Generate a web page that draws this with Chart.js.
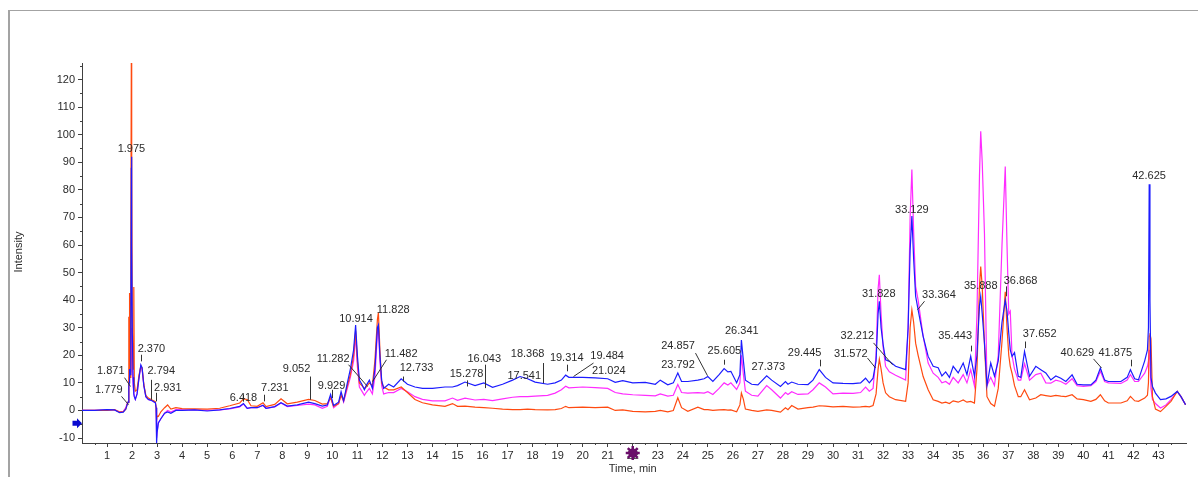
<!DOCTYPE html>
<html>
<head>
<meta charset="utf-8">
<script src="https://cdn.jsdelivr.net/npm/chart.js@4"></script>
<style>
  html, body { margin: 0; padding: 0; background: #fff; }
  #wrap { position: relative; width: 1198px; height: 477px; overflow: hidden; }
  #frame { position: absolute; left: 8px; top: 10px; width: 1400px; height: 600px;
           border-left: 2px solid #a3a3a3; border-top: 1px solid #a3a3a3; }
  canvas { position: absolute; left: 0; top: 0; }
</style>
</head>
<body>
<div id="wrap">
  <div id="frame"></div>
  <canvas id="chromChart" width="1198" height="477"></canvas>
</div>
<script>
// retention time, min
const times = [
  0, 0.5, 1.0, 1.3, 1.5, 1.65, 1.75, 1.8, 1.84, 1.87,
  1.88, 1.90, 1.92, 1.95, 1.97, 1.98, 1.99, 2.01, 2.04, 2.07,
  2.09, 2.13, 2.2, 2.28, 2.35, 2.4, 2.47, 2.55, 2.65, 2.8,
  2.93, 2.96, 2.98, 3.0, 3.05, 3.15, 3.3, 3.42, 3.55, 3.75,
  4.0, 4.5, 5.0, 5.5, 5.9, 6.3, 6.45, 6.6, 6.75, 7.0,
  7.23, 7.35, 7.7, 7.95, 8.2, 8.6, 9.05, 9.3, 9.6, 9.8,
  9.93, 10.05, 10.25, 10.35, 10.45, 10.6, 10.72, 10.85, 10.93, 11.0,
  11.08, 11.18, 11.28, 11.35, 11.48, 11.6, 11.7, 11.8, 11.84, 11.9,
  11.97, 12.05, 12.25, 12.45, 12.75, 13.0, 13.3, 13.6, 14.0, 14.5,
  14.8, 15.0, 15.3, 15.7, 16.05, 16.4, 16.8, 17.2, 17.5, 17.8,
  18.1, 18.6, 18.9, 19.15, 19.32, 19.45, 20.0, 20.5, 21.0, 21.3,
  21.6, 22.0, 22.5, 22.9, 23.1, 23.4, 23.62, 23.8, 23.95, 24.2,
  24.6, 24.85, 25.0, 25.2, 25.45, 25.65, 25.8, 25.92, 26.15, 26.28,
  26.34, 26.42, 26.5, 26.75, 27.0, 27.35, 27.55, 27.9, 28.1, 28.2,
  28.35, 28.6, 29.0, 29.2, 29.45, 29.7, 30.0, 30.4, 30.8, 31.1,
  31.3, 31.45, 31.6, 31.72, 31.8, 31.85, 31.92, 32.0, 32.1, 32.25,
  32.5, 32.9, 33.0, 33.08, 33.15, 33.22, 33.3, 33.4, 33.6, 33.8,
  34.0, 34.2, 34.35, 34.5, 34.65, 34.8, 35.0, 35.2, 35.35, 35.5,
  35.65, 35.75, 35.85, 35.9, 35.96, 36.05, 36.15, 36.3, 36.45, 36.6,
  36.75, 36.88, 36.95, 37.02, 37.08, 37.15, 37.25, 37.4, 37.5, 37.65,
  37.85, 38.1, 38.3, 38.5, 38.7, 38.9, 39.1, 39.3, 39.55, 39.75,
  40.0, 40.3, 40.5, 40.68, 40.85, 41.0, 41.5, 41.75, 41.88, 42.05,
  42.2, 42.45, 42.56, 42.6, 42.63, 42.66, 42.7, 42.76, 42.88, 43.08,
  43.3, 43.5, 43.75, 43.9, 44.08
];

const blueTrace = [
  0, 0, 0.3, 0.2, -0.8, -0.6, 0.5, 2, 3, 8.7,
  10, 15, 13, 30, 88, 92, 60, 28, 12, 6,
  5, 4, 6, 12, 16.5, 15.5, 9, 5, 4, 3.5,
  2.8, 1, -12, -8, -4.5, -3, -1, -0.5, -1, 0,
  0, 0.2, -0.2, 0.2, 0.7, 1.5, 2.5, 0.8, 1, 1,
  1.9, 0.8, 1.4, 2.8, 1.6, 2, 3, 2.5, 1.6, 2,
  5.8, 1.8, 3, 6.8, 3.5, 10, 15, 22, 31, 20,
  11, 9.5, 7.5, 9, 11, 8, 15, 30, 31, 20,
  11, 8, 9.5, 8.5, 11.5, 9.5, 8.5, 8, 8, 8.5,
  8.5, 9, 10.3, 9, 10, 8.4, 9.5, 11, 12.3, 11.5,
  10.3, 9.5, 10, 11, 12.8, 12, 12, 11.8, 11.5, 10.2,
  10.8, 10, 10.2, 9.5, 11, 9.3, 10, 13.6, 10.5, 10.5,
  11, 11.5, 12.3, 10.5, 13, 15.2, 14, 14.2, 10, 13,
  25.5, 18, 11, 9.5, 9.3, 12.6, 11, 8.7, 10.5, 9.5,
  10.3, 9.5, 9.4, 11, 14.8, 12, 10, 9.8, 9.7, 10,
  11.7, 10, 11.7, 18, 35, 39.6, 30, 24, 18.4, 17.8,
  16, 14.8, 30, 58, 70.5, 55, 41.4, 36.5, 26.9, 19.6,
  16, 15.5, 12.5, 14, 12, 16, 13.6, 17.2, 13, 19.6,
  12.4, 20, 38, 41.4, 35, 24.4, 9, 17.2, 12.4, 18,
  32, 40, 36, 28, 22, 19.6, 21, 12.4, 12, 21.4,
  12.4, 16, 14.8, 13.6, 11.1, 12.5, 11.7, 10.5, 12.9, 9.5,
  9.3, 9.3, 11, 15.4, 11, 10.5, 10.5, 12, 14.8, 11.5,
  11.1, 18, 22, 30, 82, 40, 12, 8.7, 6.3, 3.9,
  4.2, 5.1, 6.9, 5, 2.1
];

const magentaTrace = [
  0, 0, 0.2, 0.2, -0.5, -0.3, 1, 2.5, 3, 8,
  12, 15, 14, 25, 30, 28, 22, 15, 9, 6,
  5, 4, 6, 12, 16, 15, 9, 5, 4, 3.5,
  2.8, 1, -10, -8, -4.5, -3, -1, 0, -0.6, 0.3,
  0.2, 0.2, 0, 0.2, 0.6, 1.3, 2.3, 0.8, 1, 1,
  1.8, 0.8, 1.3, 2.7, 1.4, 1.8, 2.3, 2, 0.8, 1.5,
  5, 1, 2.5, 6, 3, 8, 12, 18, 27, 16,
  8.5, 7, 5.5, 6.5, 8, 6, 12, 28, 30, 18,
  9, 6, 6.5, 6.5, 8, 6.8, 5, 4, 3.5, 3.5,
  4.5, 3.7, 4.5, 3.8, 4, 3.6, 4.2, 4.8, 5, 5,
  5.2, 5.5, 6.3, 7.5, 8.8, 8.2, 8.5, 8.3, 8, 6.5,
  6, 5.7, 5.5, 5.3, 6, 5.2, 5.5, 9.4, 6.5, 6.3,
  6.5, 6.3, 6.8, 5.8, 8, 10, 9.2, 10, 7.6, 10,
  20, 13, 7, 5.5, 5.2, 9, 7.5, 4.5, 6.5, 5.8,
  6.8, 5.8, 6, 7.5, 10, 8.5, 6, 6.3, 6.2, 6.5,
  8.5, 7, 8, 20, 44, 49.2, 35, 23, 16, 14,
  12.8, 11, 30, 70, 87.4, 65, 45, 40, 27, 17.2,
  13.5, 12, 10, 10.5, 9.5, 12, 10, 13, 10, 14.8,
  8.9, 35, 85, 101.2, 90, 64, 9, 12, 9, 20,
  60, 88.5, 60, 35, 36, 20, 15, 11, 11, 17,
  11, 13, 13.5, 10, 9.9, 11, 10.5, 9.5, 11.5, 9,
  8.7, 9, 10.5, 14.2, 10.5, 10, 9.8, 11, 13, 10.5,
  10.5, 13.5, 16, 18, 22, 18, 8, 4, 2.5, 0.9,
  2, 3.9, 6.9, 5, 2.1
];

const redTrace = [
  0, 0, 0, 0.3, -0.6, -0.4, 0.5, 2, 3, 34,
  10, 42.6, 12, 60, 126, 110, 92, 30, 15, 44.8,
  10, 7, 7.5, 13, 16, 15.5, 9.5, 5.5, 4.5, 3.8,
  3.2, 1, -3.5, -2, -2.2, -0.5, 1, 2, 0.5, 1,
  0.7, 0.6, 0.5, 0.8, 1.7, 2.7, 4.2, 4, 1.7, 1.5,
  2.8, 1.4, 2.2, 4.2, 2.4, 3, 4, 3.6, 2.3, 2.5,
  4.5, 1.5, 2.5, 5.5, 3.5, 9, 13, 20, 29, 18,
  10, 9, 8, 8.5, 10, 9, 18, 33, 35.5, 22,
  10, 8.5, 7.5, 7.5, 8.5, 6.5, 4, 2.8, 2, 1.5,
  2.5, 1.5, 1.6, 1.2, 1, 0.8, 0.5, 0.3, 0.3, 0.5,
  0.3, 0.2, 0.3, 0.7, 1.5, 1, 1.2, 1, 1.2, 0,
  0.2, -0.3, -0.5, -0.3, 0, -0.5, 0, 4.6, 1, -0.3,
  1.2, 0.3, 0.3, 0, 0.2, 0.3, 0.1, 0.2, -0.5, 2,
  6.3, 4, 0.5, 0, -0.3, 0.2, 0, -0.6, 1, 0.3,
  1.8, 0.5, 1, 1.2, 1.7, 1.6, 1.3, 1.5, 1.2, 1.3,
  1.5, 1.3, 1.8, 6, 15, 18.6, 15, 10, 6.4, 5,
  3.9, 3.3, 10, 30, 36.5, 32, 24.4, 20, 12.3, 7.5,
  3.9, 3.3, 2.7, 3, 2.5, 3.5, 3, 3.8, 3, 3.3,
  2.7, 15, 45, 52.2, 45, 24, 5, 2.5, 1.5, 8,
  25, 43, 30, 20, 16, 13.5, 9, 5, 5, 7.5,
  3.9, 4.5, 5.7, 5.4, 5.1, 5.5, 5.2, 5, 5.7, 4.2,
  3.9, 3.3, 4, 5.7, 3.5, 2.7, 2.7, 3.5, 5.1, 3.5,
  3.3, 4.5, 5.5, 10, 27, 28, 26, 5, 0.5, -0.4,
  1.5, 3.3, 6.9, 5, 2.1
];

const xTicks = [1, 2, 3, 4, 5, 6, 7, 8, 9, 10, 11, 12, 13, 14, 15, 16, 17, 18, 19, 20, 21, 22,
                23, 24, 25, 26, 27, 28, 29, 30, 31, 32, 33, 34, 35, 36, 37, 38, 39, 40, 41, 42, 43];
const yTicks = [-10, 0, 10, 20, 30, 40, 50, 60, 70, 80, 90, 100, 110, 120];

const peakTimes = ['1.779', '1.871', '1.975', '2.370', '2.794', '2.931', '6.418', '7.231', '9.052', '9.929',
  '10.914', '11.282', '11.482', '11.828', '12.733', '15.278', '16.043', '17.541', '18.368', '19.314',
  '19.484', '21.024', '23.792', '24.857', '25.605', '26.341', '27.373', '29.445', '31.572', '31.828',
  '32.212', '33.129', '33.364', '35.443', '35.888', '36.868', '37.652', '40.629', '41.875', '42.625'];

// label placement: [text dx px, text intensity, leader [dx1, v1, dx2, v2] or null]
const peakLayout = [
  [-17.8, 7.3, [-5.1, 5.1, 1.5, 2.1]],
  [-18.1, 14.5, [-5.1, 11.9, 0.9, 8.7]],
  [0, 95, null],
  [10.1, 22.3, [0, 20.2, 0, 17.8]],
  [9.3, 14.5, [-1, 11.1, -1, 3.9]],
  [12.4, 8.3, [1, 6.4, 1, 3.3]],
  [0.8, 4.6, [0, 5.7, 0, 3.2]],
  [11.8, 8.3, [0.5, 5.7, 0.5, 3.3]],
  [-12.1, 15, [0.9, 12.3, 0.9, 3.9]],
  [1, 9, [1.3, 7.5, 1.3, 4.5]],
  [0.8, 33.2, null],
  [-31.3, 18.7, [-16.3, 16.6, 2.7, 8.7]],
  [31.7, 20.5, [16.4, 18.4, 2.1, 10.5]],
  [15.1, 36.5, null],
  [15.8, 15.4, [1.8, 12.3, 1.8, 10.5]],
  [2.1, 13.3, [2.1, 10.9, 2.1, 8.7]],
  [0.6, 18.8, [1.3, 16.6, 1.3, 8.1]],
  [3.1, 12.6, null],
  [-14.2, 20.5, [1.4, 17.2, 1.4, 9.9]],
  [1.2, 19, [1.2, 16.6, 1.2, 14.2]],
  [37.4, 19.8, [23.5, 17.2, 3.5, 12.3]],
  [0.5, 14.2, null],
  [0.4, 16.6, null],
  [-26.2, 23.5, [-9.2, 20.8, 2.5, 12.6]],
  [1.4, 21.4, [1.4, 18.4, 1.4, 16.6]],
  [0.4, 28.7, null],
  [1.1, 15.7, null],
  [-14.5, 21, [1, 18.4, 1, 16]],
  [-21.5, 20.6, [-5.3, 19, 3, 15.4]],
  [0, 42.3, null],
  [-31, 27.1, [-15.5, 24.5, 3.5, 16.6]],
  [0.5, 72.6, null],
  [21.7, 42, [6.3, 39.6, -0.3, 36.5]],
  [-14.1, 26.9, [1.6, 23.5, 1.6, 21.4]],
  [0.3, 45, null],
  [15.6, 47.1, [1.3, 45, 1.3, 41.4]],
  [15.1, 27.7, [0.6, 25, 0.6, 22.6]],
  [-21.7, 21, [-6.2, 18.7, 1.8, 15.4]],
  [-15, 21, [0.7, 18.4, 0.7, 16]],
  [0, 85.2, null]
];

// narrow font if it is there, else a smaller regular one
function pickFont() {
  const c = document.createElement('canvas').getContext('2d');
  c.font = "12px 'Liberation Sans Narrow', monospace";
  const a = c.measureText('33.129').width;
  c.font = '12px monospace';
  const b = c.measureText('33.129').width;
  if (Math.abs(a - b) > 0.5) return { family: "'Liberation Sans Narrow'", size: 12 };
  return { family: "'Liberation Sans', Arial, sans-serif", size: 11 };
}
const FONT = pickFont();
const TEXT = '#2a2a2a';
const AXIS = '#404040';

const toPoints = vals => times.map((t, i) => ({ x: t, y: vals[i] }));

const extras = {
  id: 'extras',
  afterDatasetsDraw(chart) {
    const { ctx, scales: { x, y } } = chart;
    ctx.save();
    ctx.font = FONT.size + 'px ' + FONT.family;
    ctx.fillStyle = TEXT;
    ctx.strokeStyle = '#333';
    ctx.lineWidth = 1;
    ctx.textAlign = 'center';
    ctx.textBaseline = 'middle';
    peakTimes.forEach((lbl, i) => {
      const px = x.getPixelForValue(parseFloat(lbl));
      const [dx, tv, line] = peakLayout[i];
      if (line) {
        ctx.beginPath();
        ctx.moveTo(Math.round(px + line[0]) + 0.5, y.getPixelForValue(line[1]));
        ctx.lineTo(Math.round(px + line[2]) + 0.5, y.getPixelForValue(line[3]));
        ctx.stroke();
      }
      ctx.fillText(lbl, px + dx, y.getPixelForValue(tv));
    });
    ctx.restore();
  },
  afterDraw(chart) {
    const { ctx, scales: { x, y } } = chart;
    ctx.save();
    // minor ticks
    ctx.strokeStyle = AXIS;
    ctx.lineWidth = 1;
    ctx.beginPath();
    for (let v = -5; v <= 125; v += 10) {
      const py = Math.round(y.getPixelForValue(v)) + 0.5;
      ctx.moveTo(x.left - 2, py); ctx.lineTo(x.left, py);
    }
    for (let t = 0.5; t < 44; t += 1) {
      const px = Math.round(x.getPixelForValue(t)) + 0.5;
      ctx.moveTo(px, y.bottom); ctx.lineTo(px, y.bottom + 2);
    }
    ctx.stroke();

    // axis titles
    ctx.fillStyle = TEXT;
    ctx.font = FONT.size + 'px ' + FONT.family;
    ctx.textAlign = 'center';
    ctx.textBaseline = 'middle';
    ctx.fillText('Time, min', x.getPixelForValue(22), 469);
    ctx.save();
    ctx.translate(19, 252);
    ctx.rotate(-Math.PI / 2);
    ctx.fillText('Intensity', 0, 0);
    ctx.restore();

    // blue start arrow
    const ay = y.getPixelForValue(-4.6);
    ctx.fillStyle = '#0a0ad0';
    ctx.beginPath();
    ctx.moveTo(72.5, ay - 2.5); ctx.lineTo(77, ay - 2.5); ctx.lineTo(77, ay - 5);
    ctx.lineTo(82, ay); ctx.lineTo(77, ay + 5); ctx.lineTo(77, ay + 2.5);
    ctx.lineTo(72.5, ay + 2.5); ctx.closePath();
    ctx.fill();

    // purple marker at 22 min
    const mx = x.getPixelForValue(22), my = 453;
    ctx.strokeStyle = '#6b0f6b';
    ctx.fillStyle = '#6b0f6b';
    ctx.lineWidth = 2.5;
    ctx.beginPath();
    for (let k = 0; k < 8; k++) {
      const a = k * Math.PI / 4;
      ctx.moveTo(mx, my); ctx.lineTo(mx + 7 * Math.cos(a), my + 7 * Math.sin(a));
    }
    ctx.stroke();
    ctx.beginPath(); ctx.arc(mx, my, 4.5, 0, Math.PI * 2); ctx.fill();
    ctx.restore();
  }
};

new Chart(document.getElementById('chromChart'), {
  type: 'line',
  data: {
    datasets: [
      { label: 'blue', data: toPoints(blueTrace), borderColor: '#1c1cff', order: 1 },
      { label: 'red', data: toPoints(redTrace), borderColor: '#ff4a10', order: 2 },
      { label: 'magenta', data: toPoints(magentaTrace), borderColor: '#ff2cff', order: 3 }
    ]
  },
  options: {
    responsive: false,
    animation: false,
    devicePixelRatio: 1,
    layout: { padding: { left: 0, top: 63, right: 12, bottom: 0 } },
    elements: {
      line: { borderWidth: 1.2, tension: 0 },
      point: { radius: 0 }
    },
    plugins: { legend: { display: false }, tooltip: { enabled: false } },
    scales: {
      x: {
        type: 'linear',
        min: 0,
        max: 44.1,
        afterBuildTicks: s => { s.ticks = xTicks.map(v => ({ value: v })); },
        afterFit: s => { s.height = 34; },
        border: { display: true, color: AXIS, width: 1 },
        grid: { drawOnChartArea: false, drawTicks: true, tickLength: 4, color: AXIS },
        ticks: { color: TEXT, padding: 2, maxRotation: 0, autoSkip: false,
                 font: { family: FONT.family, size: FONT.size } }
      },
      y: {
        type: 'linear',
        min: -11.8,
        max: 126,
        afterBuildTicks: s => { s.ticks = yTicks.map(v => ({ value: v })); },
        afterFit: s => { s.width = 82; },
        border: { display: true, color: AXIS, width: 1 },
        grid: { drawOnChartArea: false, drawTicks: true, tickLength: 4, color: AXIS },
        ticks: { color: TEXT, padding: 3, autoSkip: false,
                 font: { family: FONT.family, size: FONT.size } }
      }
    }
  },
  plugins: [extras]
});
</script>
</body>
</html>
